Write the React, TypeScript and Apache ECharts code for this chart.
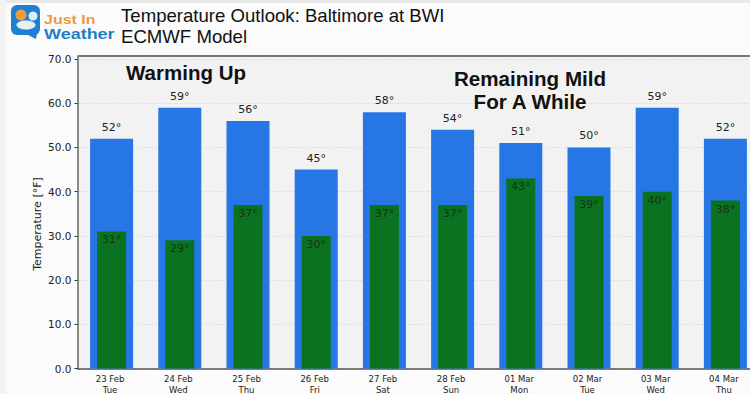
import React, { useEffect, useRef } from "react";
import * as echarts from "echarts";

const categories = ["23 Feb\nTue", "24 Feb\nWed", "25 Feb\nThu", "26 Feb\nFri", "27 Feb\nSat", "28 Feb\nSun", "01 Mar\nMon", "02 Mar\nTue", "03 Mar\nWed", "04 Mar\nThu"];
const highs = [52, 59, 56, 45, 58, 54, 51, 50, 59, 52];
const lows = [31, 29, 37, 30, 37, 37, 43, 39, 40, 38];
const yTicks = [0, 10, 20, 30, 40, 50, 60, 70];
const titleLines = ["Temperature Outlook: Baltimore at BWI", "ECMWF Model"];
const yAxisName = "Temperature [°F]";

const font = "'DejaVu Sans'";
const sans = "'Liberation Sans'";

export default function App() {
  const ref = useRef<HTMLDivElement>(null);
  useEffect(() => {
    document.body.style.margin = "0";
    const chart = echarts.init(ref.current!, null, { renderer: "svg" });
    chart.setOption({
      animation: false,
      backgroundColor: "#fbfbfb",
      grid: { left: 77.5, top: 56, width: 682, height: 312.5, backgroundColor: "#f2f2f2", show: true, borderWidth: 0, outerBoundsMode: "none", containLabel: false },
      xAxis: [
        {
          type: "category", data: categories, axisLine: { lineStyle: { color: "#555", width: 1.5 } },
          axisTick: { alignWithLabel: true, length: 3, lineStyle: { color: "#333" } },
          axisLabel: { color: "#222", fontFamily: font, fontSize: 8.5, lineHeight: 11, margin: 5, interval: 0, padding: [0, 3, 0, 0] },
        },
        { type: "category", data: categories, show: false, position: "bottom" },
      ],
      yAxis: [{
        type: "value", min: 0, max: 70.7,
        axisLine: { show: true, lineStyle: { color: "#666", width: 1.5 } },
        axisTick: { show: true, length: 3, lineStyle: { color: "#333" }, customValues: yTicks },
        axisLabel: { color: "#222", fontFamily: font, fontSize: 10.5, margin: 6, customValues: yTicks, formatter: (v: number) => Number(v).toFixed(1) },
        splitLine: { show: true, lineStyle: { color: "#e2e2e2", type: "dashed", width: 1 } },
      }],
      series: [
        {
          type: "bar", name: "High", data: highs, xAxisIndex: 0, barWidth: 43, itemStyle: { color: "#2776e6" },
          label: { show: true, position: "top", distance: 6, color: "#222", fontFamily: font, fontSize: 11, formatter: "{c}°" },
        },
        {
          type: "bar", name: "Low", data: lows, xAxisIndex: 1, barWidth: 29, itemStyle: { color: "#0b7320" },
          label: { show: true, position: "insideTop", distance: 3, color: "#14331c", fontFamily: font, fontSize: 11, formatter: "{c}°" },
        },
      ],
      graphic: [
        { type: "rect", z: 100, shape: { x: 0, y: 0, width: 750, height: 3 }, style: { fill: "#e8e8e8" } },
        { type: "rect", z: 100, shape: { x: 0, y: 0, width: 6, height: 394 }, style: { fill: "#f3f3f3" } },
        { type: "rect", z: 100, shape: { x: 78, y: 55, width: 672, height: 2 }, style: { fill: "#777" } },
        { type: "text", z: 100, x: 37, y: 224, rotation: Math.PI / 2, style: { text: yAxisName, fill: "#222", font: `11px ${font}`, align: "center", verticalAlign: "middle" } },
        { type: "text", z: 100, x: 121, y: 6, style: { text: titleLines[0], fill: "#111", font: `18.6px ${sans}` } },
        { type: "text", z: 100, x: 121, y: 27, style: { text: titleLines[1], fill: "#111", font: `18.6px ${sans}` } },
        { type: "text", z: 100, x: 126, y: 62, style: { text: "Warming Up", fill: "#111", font: `bold 20.5px ${sans}` } },
        { type: "text", z: 100, x: 530, y: 68, style: { text: "Remaining Mild", fill: "#111", font: `bold 20.6px ${sans}`, align: "center" } },
        { type: "text", z: 100, x: 530, y: 91, style: { text: "For A While", fill: "#111", font: `bold 20.6px ${sans}`, align: "center" } },
        // logo
        { type: "rect", z: 100, shape: { x: 11, y: 5, width: 29, height: 30, r: 6 }, style: { fill: "#1f7fd0" } },
        { type: "polygon", z: 100, shape: { points: [[24, 33], [37, 33], [36, 39]] }, style: { fill: "#1f7fd0" } },
        { type: "circle", z: 100, shape: { cx: 21, cy: 15, r: 5.5 }, style: { fill: "#f09a3a" } },
        { type: "circle", z: 100, shape: { cx: 33, cy: 16, r: 4.5 }, style: { fill: "#ffffff", opacity: 0.85 } },
        { type: "ellipse", z: 100, shape: { cx: 26, cy: 25, rx: 9.5, ry: 4.5 }, style: { fill: "#e9eef3" } },
        { type: "text", z: 100, x: 44, y: 13.5, scaleY: 0.8, style: { text: "Just In", fill: "#ee9a43", font: `bold 16px ${sans}` } },
        { type: "text", z: 100, x: 44, y: 26.5, scaleY: 0.8, style: { text: "Weather", fill: "#1f7fc4", font: `bold 18px ${sans}` } },
      ],
    });
    return () => chart.dispose();
  }, []);
  return <div ref={ref} style={{ width: 750, height: 394 }} />;
}
